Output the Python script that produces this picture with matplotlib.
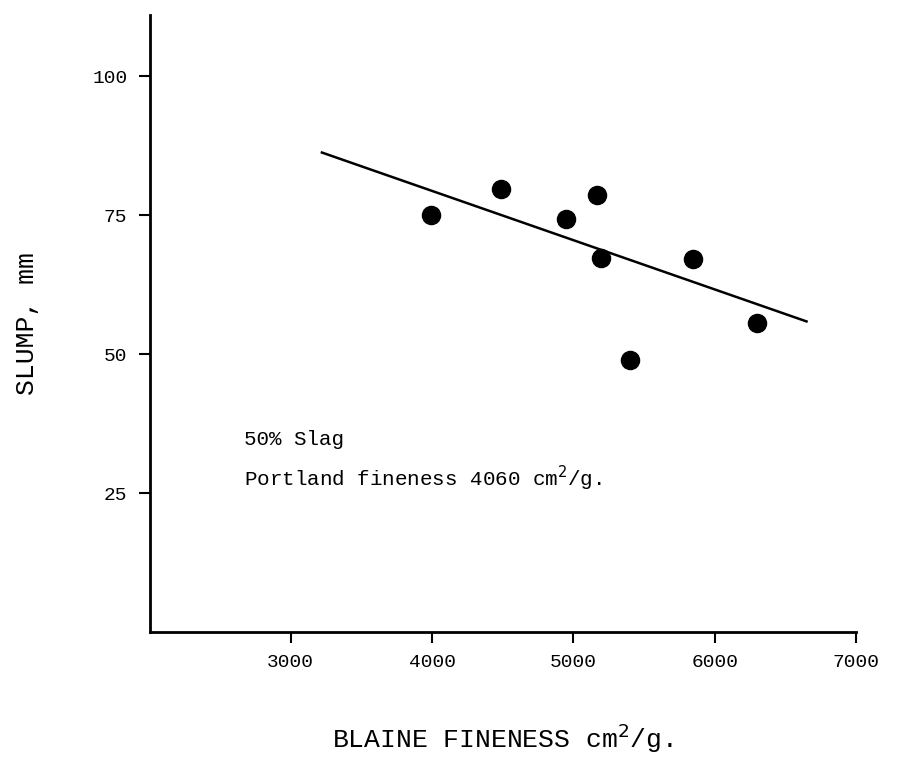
import matplotlib
matplotlib.use('Agg')
import matplotlib.pyplot as plt

# dados
blaine = [3990, 4490, 4950, 5170, 5195, 5400, 5850, 6300]
slump = [75.1, 79.8, 74.4, 78.7, 67.4, 49.0, 67.2, 55.7]

# reta de ajuste (extremos)
reta_x = [3220, 6650]
reta_y = [86.3, 55.9]

xticks = [3000, 4000, 5000, 6000, 7000]
yticks = [25, 50, 75, 100]

fonte = 'Liberation Mono'

fig = plt.figure(figsize=(9.01, 7.66), dpi=100)
ax = fig.add_axes([0.166, 0.175, 0.784, 0.805])

ax.plot(reta_x, reta_y, color='black', linewidth=1.8)
ax.scatter(blaine, slump, s=170, color='black', zorder=3)

ax.set_xlim(2000, 7000)
ax.set_ylim(0, 111)
ax.set_xticks(xticks)
ax.set_yticks(yticks)
ax.set_xticklabels([str(v) for v in xticks], fontfamily=fonte, fontsize=14)
ax.set_yticklabels([str(v) for v in yticks], fontfamily=fonte, fontsize=14)
ax.tick_params(direction='out', length=8, width=1.5, pad=8)

for lado in ['top', 'right']:
    ax.spines[lado].set_visible(False)
for lado in ['left', 'bottom']:
    ax.spines[lado].set_linewidth(2)

ax.text(2670, 34.6, '50% Slag', fontfamily=fonte, fontsize=15, va='center')
ax.text(2670, 27.7, 'Portland fineness 4060 cm$^2$/g.', fontfamily=fonte,
        fontsize=15, va='center')

ax.set_xlabel('BLAINE FINENESS cm$^2$/g.', fontfamily=fonte, fontsize=19, labelpad=36)
ax.set_ylabel('SLUMP, mm', fontfamily=fonte, fontsize=19, labelpad=38)

fig.savefig('out.png', dpi=100)
